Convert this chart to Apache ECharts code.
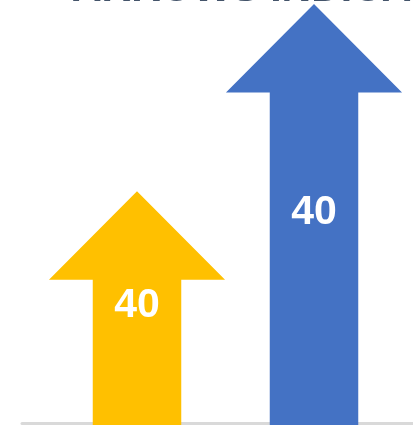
<!DOCTYPE html>
<html>
<head>
<meta charset="utf-8">
<script src="https://cdn.jsdelivr.net/npm/echarts@6/dist/echarts.min.js"></script>
<style>
  html, body { margin: 0; padding: 0; background: #fff; }
  #main { width: 413px; height: 425px; }
</style>
</head>
<body>
<div id="main"></div>
<script>
// data
var categories = ['A', 'B'];
var values = [55.5, 100];
var labels = ['40', '40'];
var colors = ['#FFC000', '#4472C4'];

var chart = echarts.init(document.getElementById('main'), null, { renderer: 'canvas' });

// draws one up-arrow per category
function renderArrow(params, api) {
  var idx = api.value(0);
  var base = api.coord([idx, 0]);
  var tip = api.coord([idx, api.value(1)]);
  var band = api.size([1, 0])[0];
  var headW = band * 0.995;
  var shaftW = band * 0.5;
  var headH = shaftW;
  var cx = tip[0];
  var ty = tip[1];
  var by = base[1];
  var pts = [
    [cx, ty],
    [cx + headW / 2, ty + headH],
    [cx + shaftW / 2, ty + headH],
    [cx + shaftW / 2, by],
    [cx - shaftW / 2, by],
    [cx - shaftW / 2, ty + headH],
    [cx - headW / 2, ty + headH]
  ];
  return {
    type: 'group',
    children: [{
      type: 'polygon',
      shape: { points: pts },
      style: { fill: colors[idx] }
    }, {
      type: 'text',
      style: {
        text: labels[idx],
        x: cx,
        y: (ty + by) / 2 - 2,
        align: 'center',
        verticalAlign: 'middle',
        fill: '#fff',
        font: 'bold 41px "Liberation Sans", Arial, sans-serif'
      }
    }]
  };
}

var option = {
  animation: false,
  title: {
    text: 'ARROWS INDICATOR',
    left: 67,
    top: -36,
    textStyle: {
      color: '#44546A',
      fontSize: 41,
      fontWeight: 'bold',
      fontFamily: '"Liberation Sans", Arial, sans-serif'
    }
  },
  grid: [
    { left: 48.5, width: 354, top: 4, bottom: 0 },
    { left: 22, right: 0, top: 0, bottom: 1.5 }
  ],
  xAxis: [{
    type: 'category',
    data: categories,
    gridIndex: 0,
    axisLine: { show: false },
    axisTick: { show: false },
    axisLabel: { show: false }
  }, {
    type: 'category',
    data: [],
    gridIndex: 1,
    axisLine: { show: true, lineStyle: { color: '#D9D9D9', width: 3 } },
    axisTick: { show: false },
    axisLabel: { show: false }
  }],
  yAxis: [{
    type: 'value',
    gridIndex: 0,
    min: 0,
    max: 100,
    show: false
  }, {
    type: 'value',
    gridIndex: 1,
    show: false
  }],
  series: [{
    type: 'custom',
    xAxisIndex: 0,
    yAxisIndex: 0,
    z: 5,
    renderItem: renderArrow,
    data: values.map(function (v, i) { return [i, v]; })
  }]
};

chart.setOption(option);
</script>
</body>
</html>
